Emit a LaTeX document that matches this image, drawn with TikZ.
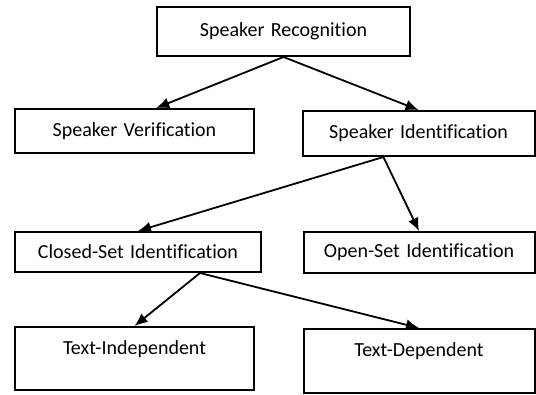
\documentclass[tikz,border=0pt]{standalone}
\usepackage{fontspec}
\setmainfont[Ligatures=NoCommon,WordSpace=1.4]{Carlito}
\usepackage{tikz}
\usetikzlibrary{calc,arrows.meta,positioning}
\tikzset{
    % plain rectangle for one class of recognition
    classbox/.style={
        rectangle, draw=black, fill=white, line width=2pt,
        inner sep=0pt, font=\fontsize{20}{24}\selectfont
    },
    % taller box, text set in its upper part
    leafbox/.style={classbox, text depth=22pt},
    % connector with filled triangular head
    link/.style={line width=1.8pt, -{Latex[length=13pt,width=11pt]}},
}

\begin{document}
\begin{tikzpicture}[x=1pt,y=-1pt]
  \useasboundingbox (0,0) rectangle (536,394);
  \node[classbox,minimum width=253pt,minimum height=49pt] (rec) at (283.5,31.5) {Speaker Recognition};
  \node[classbox,minimum width=239pt,minimum height=44pt] (ver) at (134.5,131) {Speaker Verification};
  \node[classbox,minimum width=232pt,minimum height=45pt] (ide) at (418.5,133.5) {Speaker Identification};
  \node[classbox,minimum width=246pt,minimum height=40pt] (closed) at (138,252) {Closed-Set Identification};
  \node[classbox,minimum width=231pt,minimum height=41pt] (open) at (419,252.5) {Open-Set Identification};
  \node[leafbox,minimum width=239pt,minimum height=63pt] (indep) at (134.5,358.5) {Text-Independent};
  \node[leafbox,minimum width=231pt,minimum height=64pt] (dep) at (419,361) {Text-Dependent};

  % recognition splits in two
  \draw[link] (rec.south) -- ($(ver.north west)!0.59!(ver.north east)$);
  \draw[link] (rec.south) -- (ide.north);
  % identification
  \draw[link] ($(ide.south west)!0.35!(ide.south east)$) -- (closed.north);
  \draw[link] ($(ide.south west)!0.35!(ide.south east)$) -- (open.north);
  % closed set
  \draw[link] ($(closed.south west)!0.75!(closed.south east)$) -- (indep.north);
  \draw[link] ($(closed.south west)!0.75!(closed.south east)$) -- (dep.north);
\end{tikzpicture}
\end{document}
